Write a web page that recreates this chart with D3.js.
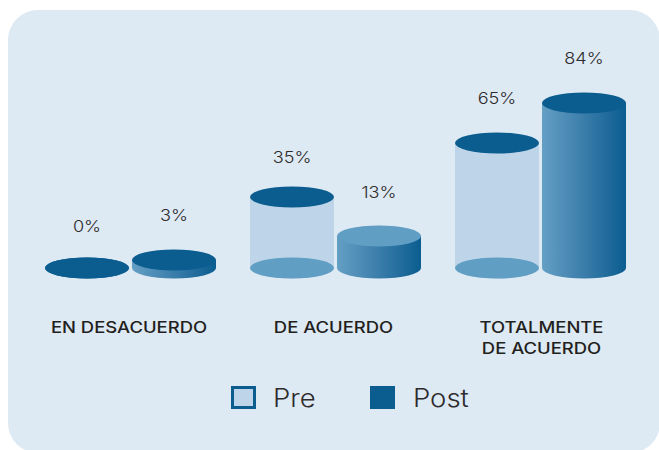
<!DOCTYPE html>
<html><head><meta charset="utf-8">
<script src="https://cdn.jsdelivr.net/npm/d3@7"></script>
<style>html,body{margin:0;padding:0;background:#fff}svg{display:block}text{font-family:Inter,"Open Sans",sans-serif}</style>
</head><body><svg id="c" width="659" height="450"></svg>
<script>
const categories = [["EN DESACUERDO"],["DE ACUERDO"],["TOTALMENTE","DE ACUERDO"]];
const series = ["Pre","Post"];
const preValues = [0,35,65];
const postValues = [3,13,84];
const heightDomain = [0,3,13,35,65,84];
const heightRange = [268,260,236,197,143,103];

const W=659,H=450;
const svg=d3.select("#c");
const defs=svg.append("defs");
const g=defs.append("linearGradient").attr("id","cyl");
[[0,"#649fc4"],[0.45,"#3f80ad"],[1,"#0b5d90"]].forEach(s=>g.append("stop").attr("offset",s[0]).attr("stop-color",s[1]));

svg.append("rect").attr("x",8).attr("y",10).attr("width",652).attr("height",443).attr("rx",30).attr("fill","#dde9f3");

const x0=d3.scaleBand().domain(d3.range(categories.length)).range([28,643]);
const x1=d3.scaleBand().domain(series).range([0,174]);
const y=d3.scaleLinear().domain(heightDomain).range(heightRange);
const rx=42,ry=10.5;
const off=(x0.bandwidth()-174)/2;
const dark="#0b5d90",mid="#619ec4",pale="#bed4e8";

function cyl(sel,cx,v,isPost){
  const top=y(v),base=y(0);
  const body=`M${cx-rx},${top}L${cx-rx},${base}A${rx},${ry} 0 0 0 ${cx+rx},${base}L${cx+rx},${top}Z`;
  if(!isPost){
    if(v>0) sel.append("path").attr("d",body).attr("fill",pale);
    sel.append("ellipse").attr("cx",cx).attr("cy",base).attr("rx",rx).attr("ry",ry).attr("fill",v>0?mid:dark);
    sel.append("ellipse").attr("cx",cx).attr("cy",top).attr("rx",rx).attr("ry",ry).attr("fill",dark);
  } else {
    sel.append("path").attr("d",body).attr("fill","url(#cyl)");
    sel.append("ellipse").attr("cx",cx).attr("cy",top).attr("rx",rx).attr("ry",ry).attr("fill",v<10||v>50?dark:mid);
  }
}
function wide(sel,x,yy,k,anchor,size,weight,fill,str){
  return sel.append("text").attr("transform",`translate(${x},${yy}) scale(${k},1)`)
    .attr("text-anchor",anchor).attr("font-size",size).attr("font-weight",weight).attr("fill",fill).text(str);
}
const fmt=v=>v+"%";
const preNudge=[3,5,0], postNudge=[0,1,0], catNudge=[-1.5,-2,1];
categories.forEach((c,i)=>{
  const gr=svg.append("g");
  const xs=series.map(s=>x0(i)+off+x1(s)+x1.bandwidth()/2);
  cyl(gr,xs[0],preValues[i],false);
  cyl(gr,xs[1],postValues[i],true);
  wide(gr,xs[0],y(preValues[i])-39.5+preNudge[i],1.13,"middle",16,300,"#2d2b2c",fmt(preValues[i]));
  wide(gr,xs[1],y(postValues[i])-39.5+postNudge[i],1.13,"middle",16,300,"#2d2b2c",fmt(postValues[i]));
  c.forEach((line,j)=>wide(gr,x0(i)+x0.bandwidth()/2+catNudge[i],333+j*21,1.19,"middle",15.5,500,"#231f20",line));
});
const legX=[231,371];
series.forEach((s,i)=>{
  const l=svg.append("g");
  if(i==0) l.append("rect").attr("x",legX[i]+1.5).attr("y",387.5).attr("width",22).attr("height",20).attr("fill",pale).attr("stroke",dark).attr("stroke-width",3);
  else l.append("rect").attr("x",legX[i]-1).attr("y",386).attr("width",25).attr("height",23).attr("fill",dark);
  wide(l,legX[i]+42,407,1.1,"start",25,300,"#2d2b2c",s);
});
</script></body></html>
